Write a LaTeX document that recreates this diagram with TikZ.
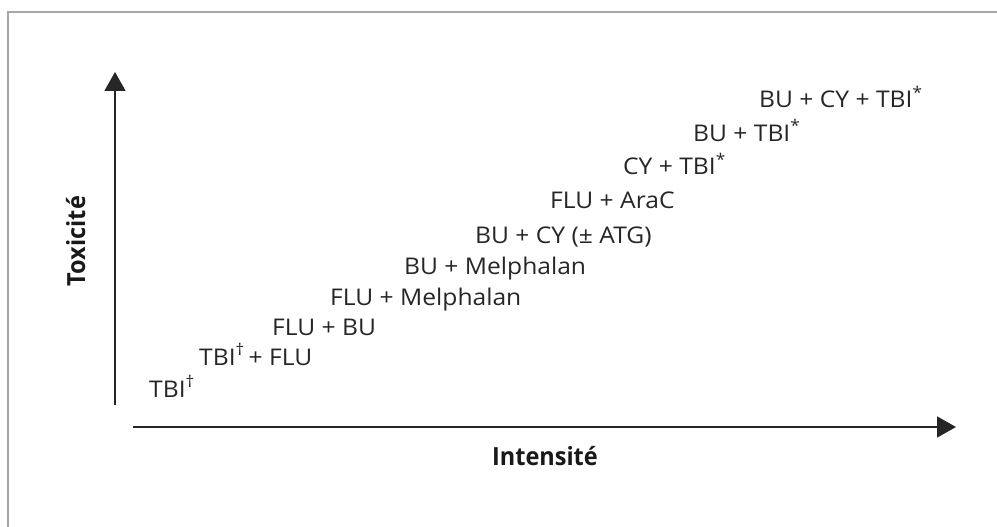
\documentclass[tikz,border=0pt]{standalone}
\usepackage{fontspec}
\setmainfont{Open Sans}[FakeStretch=1.07]
\newfontfamily\axfont{Open Sans}[FakeStretch=0.94]
\usetikzlibrary{arrows.meta}
\begin{document}
\begin{tikzpicture}[x=1pt,y=-1pt,
  lbl/.style={anchor=base west,inner sep=0pt,font=\fontsize{23}{25}\selectfont,text=black!85},
  axlbl/.style={inner sep=0pt,font=\axfont\fontsize{25}{27}\selectfont\bfseries,text=black!90},
  axis/.style={line width=1.8pt,draw=black!85,-{Triangle[length=19pt,width=21pt]}},
  frame/.style={line width=2pt,draw=black!35}]
\useasboundingbox (0,0) rectangle (997,527);
\draw[frame] (8,527) -- (8,12) -- (997,12);
\coordinate (yb) at (115,405);
\coordinate (yt) at (115,72);
\coordinate (xl) at (133,427);
\coordinate (xr) at (956,427);
\draw[axis] (yb) -- (yt);
\draw[axis] (xl) -- (xr);
\node[axlbl,rotate=90,anchor=base] (tox) at (85,241) {Toxicité};
\node[axlbl,anchor=base] (int) at (545,465) {Intensité};
\node[lbl] (l1) at (759,108) {BU + CY + TBI\textsuperscript{*}};
\node[lbl] (l2) at (693,141) {BU + TBI\textsuperscript{*}};
\node[lbl] (l3) at (623,175) {CY + TBI\textsuperscript{*}};
\node[lbl] (l4) at (550,208) {FLU + AraC};
\node[lbl] (l5) at (475,243) {BU + CY (± ATG)};
\node[lbl] (l6) at (404,274) {BU + Melphalan};
\node[lbl] (l7) at (330,305) {FLU + Melphalan};
\node[lbl] (l8) at (272,335) {FLU + BU};
\node[lbl] (l9) at (199,365) {TBI\textsuperscript{†}\,+ FLU};
\node[lbl] (l10) at (149,397) {TBI\textsuperscript{†}};
\end{tikzpicture}
\end{document}
